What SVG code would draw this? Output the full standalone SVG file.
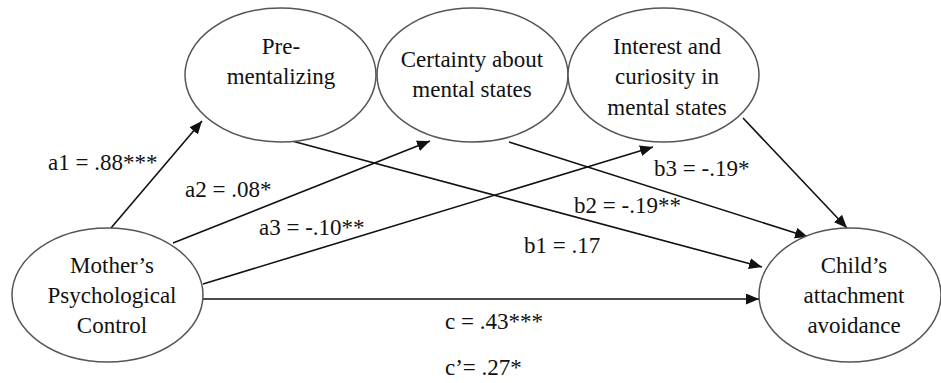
<svg xmlns="http://www.w3.org/2000/svg" width="941" height="383" viewBox="0 0 941 383">
<style>
.node{fill:#fff;stroke:#555;stroke-width:1.5}
text{font-family:"Liberation Serif","Times New Roman",serif;font-size:23px;fill:#111}
.c{text-anchor:middle}
.edge{stroke:#111;stroke-width:1.6;fill:none;marker-end:url(#ah)}
</style>
<defs>
<marker id="ah" markerUnits="userSpaceOnUse" markerWidth="14" markerHeight="12" refX="13" refY="5.5" orient="auto">
<path d="M0,0 L13,5.5 L0,11 z" fill="#111"/>
</marker>
</defs>
<rect width="941" height="383" fill="#fff"/>
<g id="connectors">
<line class="edge" x1="111" y1="228" x2="202" y2="121"/>
<line class="edge" x1="173" y1="243" x2="430" y2="141"/>
<line class="edge" x1="203" y1="284" x2="653" y2="147"/>
<line class="edge" x1="203" y1="299" x2="759" y2="299"/>
<line class="edge" x1="292" y1="141" x2="762" y2="267"/>
<line class="edge" x1="509" y1="142" x2="808" y2="237"/>
<line class="edge" x1="743" y1="118" x2="847" y2="228"/>
</g>
<g id="pre-mentalizing">
<ellipse class="node" cx="280.5" cy="75" rx="95.5" ry="67"/>
<text class="c" x="281" y="54">Pre-</text>
<text class="c" x="281" y="84">mentalizing</text>
</g>
<g id="certainty">
<ellipse class="node" cx="472.5" cy="75" rx="95.5" ry="67"/>
<text class="c" x="472" y="67">Certainty about</text>
<text class="c" x="472" y="97">mental states</text>
</g>
<g id="interest">
<ellipse class="node" cx="663.5" cy="75" rx="95.5" ry="67"/>
<text class="c" x="667" y="54">Interest and</text>
<text class="c" x="667" y="84">curiosity in</text>
<text class="c" x="667" y="115">mental states</text>
</g>
<g id="mother">
<ellipse class="node" cx="107.5" cy="295" rx="95.5" ry="67"/>
<text class="c" x="112" y="273">Mother’s</text>
<text class="c" x="112" y="303">Psychological</text>
<text class="c" x="112" y="333">Control</text>
</g>
<g id="child">
<ellipse class="node" cx="850" cy="295" rx="91" ry="67"/>
<text class="c" x="854" y="273">Child’s</text>
<text class="c" x="854" y="303">attachment</text>
<text class="c" x="854" y="333">avoidance</text>
</g>
<g id="labels">
<text x="48" y="170">a1 = .88***</text>
<text x="185" y="197">a2 = .08*</text>
<text x="259" y="235">a3 = -.10**</text>
<text x="654" y="176">b3 = -.19*</text>
<text x="574" y="213">b2 = -.19**</text>
<text x="524" y="253">b1 = .17</text>
<text x="445" y="329">c = .43***</text>
<text x="445" y="375">c’= .27*</text>
</g>
</svg>
